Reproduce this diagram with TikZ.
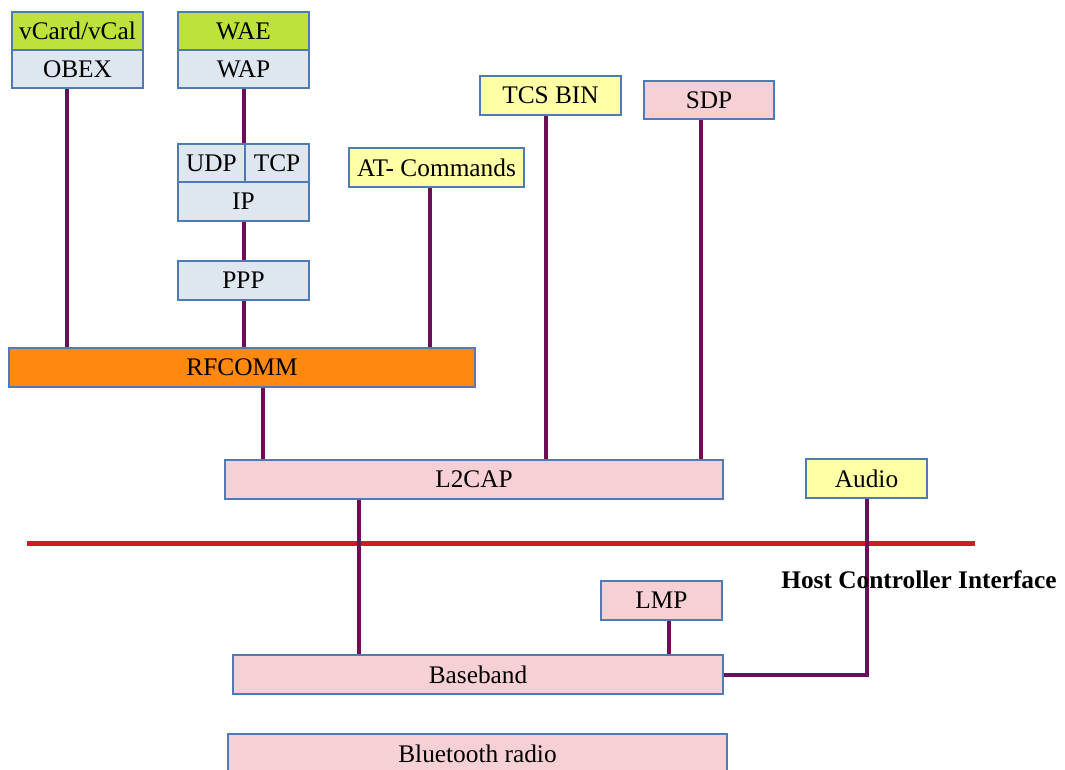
\documentclass[tikz,border=0pt]{standalone}
\usepackage{fontspec}
\setmainfont{Liberation Serif}
\usetikzlibrary{calc}
\definecolor{bdr}{RGB}{80,122,180}
\definecolor{appgreen}{RGB}{190,226,60}
\definecolor{netblue}{RGB}{222,230,239}
\definecolor{cmdyellow}{RGB}{255,255,166}
\definecolor{corepink}{RGB}{247,208,213}
\definecolor{rforange}{RGB}{255,136,16}
\definecolor{wire}{RGB}{108,14,88}
\definecolor{hcired}{RGB}{212,24,36}
\pgfdeclarelayer{back}
\pgfsetlayers{back,main}

\begin{document}
\begin{tikzpicture}[x=0.75pt,y=-0.75pt,
  box/.style={draw=bdr,line width=1.5pt,inner sep=0pt,minimum height=29pt,
    font=\fontsize{19}{22}\selectfont},
  link/.style={draw=wire,line width=3pt}]

\clip (0,0) rectangle (1065,769);

% upper layers
\node[box,fill=appgreen,minimum width=98.25pt](vcard) at (77.5,31){vCard/vCal};
\node[box,fill=netblue,minimum width=98.25pt](obex) at (77.5,69){OBEX};
\node[box,fill=appgreen,minimum width=98.25pt](wae) at (243.5,31){WAE};
\node[box,fill=netblue,minimum width=98.25pt](wap) at (243.5,69){WAP};
\node[box,fill=netblue,minimum width=50.25pt](udp) at (211.5,163){UDP};
\node[box,fill=netblue,minimum width=48pt](tcp) at (277,163){TCP};
\node[box,fill=netblue,minimum width=98.25pt](ip) at (243.5,201.5){IP};
\node[box,fill=netblue,minimum width=98.25pt](ppp) at (243.5,280.5){PPP};
\node[box,fill=cmdyellow,minimum width=131.25pt](at) at (436.5,167.5){AT- Commands};
\node[box,fill=cmdyellow,minimum width=105.75pt](tcs) at (550.5,95.5){TCS BIN};
\node[box,fill=corepink,minimum width=97.5pt](sdp) at (709,100){SDP};
\node[box,fill=rforange,minimum width=349.5pt](rfcomm) at (242,367.5){RFCOMM};

% core layers
\node[box,fill=corepink,minimum width=373.5pt](l2cap) at (474,479.5){L2CAP};
\node[box,fill=cmdyellow,minimum width=90.75pt](audio) at (866.5,478.5){Audio};
\node[box,fill=corepink,minimum width=90.75pt](lmp) at (661.5,600.5){LMP};
\node[box,fill=corepink,minimum width=367.5pt](baseband) at (478,674.5){Baseband};
\node[box,fill=corepink,minimum width=374.25pt](radio) at (477.5,753.5){Bluetooth radio};

% host controller interface
\coordinate (hciL) at (27,543);
\coordinate (hciR) at (975,543);
\node[font=\fontsize{19}{22}\selectfont\bfseries](hci) at (919,580){Host Controller Interface};

\begin{pgfonlayer}{back}
\draw[draw=hcired,line width=3.75pt] (hciL) -- (hciR);
\path[link] ($(obex.south)+(-10.5,0)$) |- (rfcomm.center)
  (wap.south) |- (udp.north east)
  (ip.south) -- (ppp.north)
  (ppp.south) |- (rfcomm.center)
  ($(at.south)+(-6.5,0)$) |- (rfcomm.center)
  ($(tcs.south)+(-4.5,0)$) |- (l2cap.center)
  ($(sdp.south)+(-8,0)$) |- (l2cap.center)
  ($(rfcomm.south)+(21,0)$) |- (l2cap.center)
  ($(l2cap.south)+(-115,0)$) |- (baseband.center)
  ($(lmp.south)+(7.5,0)$) |- (baseband.center)
  (audio.south) |- (baseband.center);
\end{pgfonlayer}

\end{tikzpicture}
\end{document}
